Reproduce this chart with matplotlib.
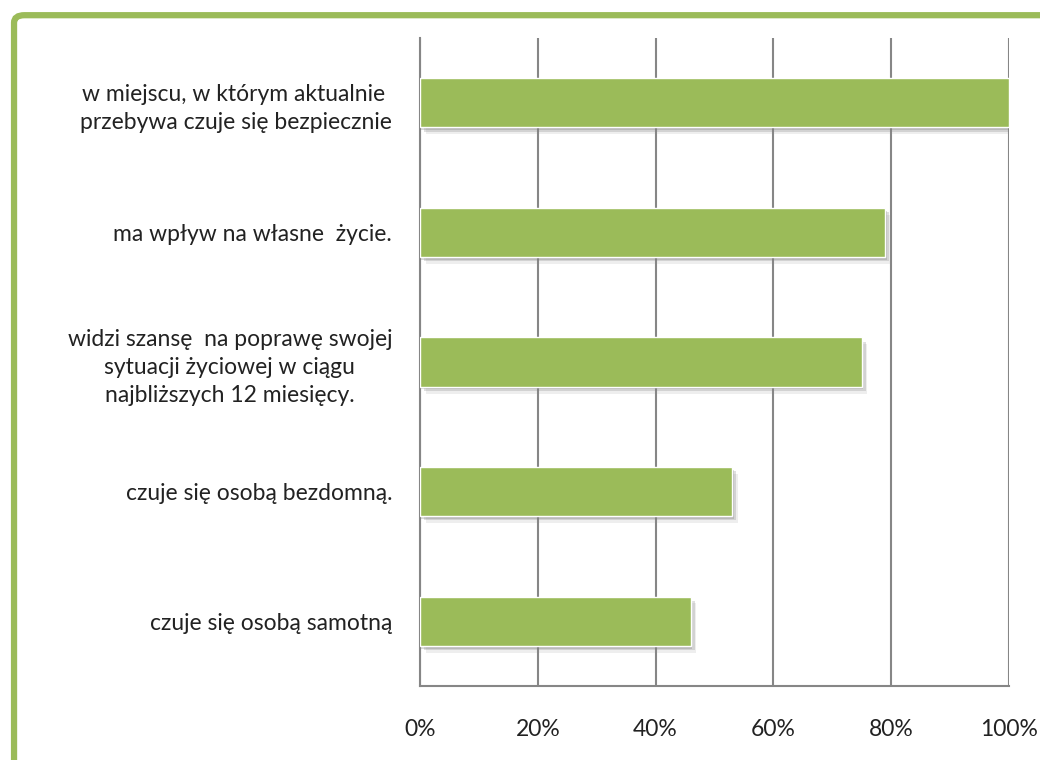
import matplotlib
matplotlib.use('Agg')
import matplotlib.pyplot as plt
import matplotlib.patheffects as pe
from matplotlib.patches import FancyBboxPatch

# Data
categories = [
    'w miejscu, w którym aktualnie \nprzebywa czuje się bezpiecznie',
    'ma wpływ na własne  życie.',
    'widzi szansę  na poprawę swojej\nsytuacji życiowej w ciągu\nnajbliższych 12 miesięcy.',
    'czuje się osobą bezdomną.',
    'czuje się osobą samotną',
]
values = [100, 79, 75, 53, 46]
tick_values = [0, 20, 40, 60, 80, 100]
tick_labels = ['0%', '20%', '40%', '60%', '80%', '100%']

bar_color = '#9BBB59'
grid_color = '#868686'

plt.rcParams['font.family'] = ['Lato', 'DejaVu Sans']

fig = plt.figure(figsize=(10.4, 7.6), dpi=100)
ax = fig.add_axes([0.4038, 0.0974, 0.5664, 0.8526])

positions = list(range(len(categories)))
bars = ax.barh(positions, values, height=0.38, color=bar_color,
               edgecolor='white', linewidth=1.0, zorder=3)
for b in bars:
    b.set_path_effects([
        pe.SimplePatchShadow(offset=(4, -5), shadow_rgbFace='#909090', alpha=0.15),
        pe.SimplePatchShadow(offset=(3, -3), shadow_rgbFace='#808080', alpha=0.25),
        pe.SimplePatchShadow(offset=(1, -2), shadow_rgbFace='#808080', alpha=0.3),
        pe.Normal(),
    ])

ax.set_xlim(0, 100)
ax.set_ylim(len(categories) - 0.5, -0.5)
ax.set_xticks(tick_values)
ax.set_xticklabels(tick_labels, fontsize=16.5, color='#222222')
ax.set_yticks(positions)
ax.set_yticklabels(categories, fontsize=16.5, color='#222222',
                   multialignment='center', linespacing=1.4)

ax.grid(axis='x', color=grid_color, linewidth=1.5, zorder=0)
ax.tick_params(axis='both', length=0)
ax.tick_params(axis='x', pad=24)
ax.tick_params(axis='y', pad=20)
for side in ['top', 'right']:
    ax.spines[side].set_visible(False)
for side in ['left', 'bottom']:
    ax.spines[side].set_color(grid_color)
    ax.spines[side].set_linewidth(1.5)

# green frame around the chart
frame = FancyBboxPatch((0.0135, -0.05), 1.2, 1.03, transform=fig.transFigure,
                       boxstyle='round,pad=0,rounding_size=0.01',
                       facecolor='none', edgecolor=bar_color, linewidth=4.5,
                       zorder=10)
fig.patches.append(frame)

fig.savefig('out.png', dpi=100)
